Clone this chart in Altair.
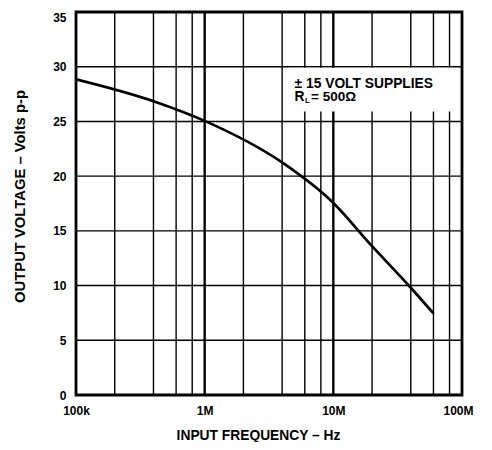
import altair as alt
import pandas as pd

# curve values
freq_hz = [1e5, 4e5, 1e6, 4e6, 1e7, 2e7, 4e7, 6e7]
volts_pp = [28.85, 26.85, 25.05, 21.25, 17.55, 13.6, 9.8, 7.45]

# grid / tick values
minor_x = [2e5, 4e5, 6e5, 8e5, 2e6, 4e6, 6e6, 8e6, 2e7, 4e7, 6e7, 8e7]
major_x = [1e6, 1e7]
grid_y = [5, 10, 15, 20, 25, 30]
x_ticks = [1e5, 1e6, 1e7, 1e8]
x_tick_labels = ["100k", "1M", "10M", "100M"]
y_ticks = [0, 5, 10, 15, 20, 25, 30, 35]

# annotation
note_line1 = "± 15 VOLT SUPPLIES"
note_R = "R"
note_L = "L"
note_rest = "= 500Ω"
note_x = [5.0e6]
note_y1 = [28.1]
note_y2 = [26.85]
box_x = [4.5e6]
box_x2 = [8.6e7]
box_y = [25.9]
box_y2 = [29.9]

FONT = "Liberation Sans"

xscale = alt.Scale(type="log", domain=[1e5, 1e8], nice=False)
yscale = alt.Scale(domain=[0, 35], nice=False, zero=False)

label_map = "{" + ",".join(f"'{int(v)}':'{l}'" for v, l in zip(x_ticks, x_tick_labels)) + "}"

curve_df = pd.DataFrame({"f": freq_hz, "v": volts_pp})

xaxis = alt.Axis(
    title="INPUT FREQUENCY – Hz",
    values=x_ticks,
    labelExpr=f"{label_map}[format(datum.value, 'd')]",
    grid=False, ticks=False, domain=False,
    labelFlush=False, labelPadding=10,
    labelOffset={"condition": {"test": "datum.value >= 100000000", "value": -4}, "value": 0},
    labelFont=FONT, labelFontWeight="bold", labelFontSize=12, labelColor="black",
    titleFont=FONT, titleFontWeight="bold", titleFontSize=13.8, titleColor="black",
    titleX=182, titleY=40, titleBaseline="middle", titleAlign="center",
)
yaxis = alt.Axis(
    title="OUTPUT VOLTAGE – Volts p-p",
    values=y_ticks,
    grid=False, ticks=False, domain=False,
    labelPadding=10,
    labelBaseline={"condition": {"test": "datum.value >= 35", "value": "top"}, "value": "middle"},
    labelFont=FONT, labelFontWeight="bold", labelFontSize=12, labelColor="black",
    titleFont=FONT, titleFontWeight="bold", titleFontSize=14.8, titleColor="black",
    titleX=-56, titleY=184, titleBaseline="middle", titleAlign="center", titleAngle=270,
)

minor_rules = alt.Chart(pd.DataFrame({"f": minor_x})).mark_rule(
    color="black", strokeWidth=1.4
).encode(x=alt.X("f:Q", scale=xscale, axis=xaxis))

major_rules = alt.Chart(pd.DataFrame({"f": major_x})).mark_rule(
    color="black", strokeWidth=2.4
).encode(x=alt.X("f:Q", scale=xscale))

h_rules = alt.Chart(pd.DataFrame({"v": grid_y})).mark_rule(
    color="black", strokeWidth=1.4
).encode(y=alt.Y("v:Q", scale=yscale, axis=yaxis))

box = alt.Chart(pd.DataFrame({"x": box_x, "x2": box_x2, "y": box_y, "y2": box_y2})).mark_rect(
    color="white"
).encode(x=alt.X("x:Q", scale=xscale), x2="x2:Q", y=alt.Y("y:Q", scale=yscale), y2="y2:Q")

txt_style = dict(font=FONT, fontWeight="bold", fontSize=13.8, color="black", align="left", baseline="alphabetic")

t1 = alt.Chart(pd.DataFrame({"x": note_x, "y": note_y1, "t": [note_line1]})).mark_text(**txt_style).encode(
    x=alt.X("x:Q", scale=xscale), y=alt.Y("y:Q", scale=yscale), text="t:N")
tR = alt.Chart(pd.DataFrame({"x": note_x, "y": note_y2, "t": [note_R]})).mark_text(**txt_style).encode(
    x=alt.X("x:Q", scale=xscale), y=alt.Y("y:Q", scale=yscale), text="t:N")
tL = alt.Chart(pd.DataFrame({"x": note_x, "y": note_y2, "t": [note_L]})).mark_text(
    font=FONT, fontWeight="bold", fontSize=8, color="black", align="left", baseline="alphabetic", dx=10.5, dy=2
).encode(x=alt.X("x:Q", scale=xscale), y=alt.Y("y:Q", scale=yscale), text="t:N")
tRest = alt.Chart(pd.DataFrame({"x": note_x, "y": note_y2, "t": [note_rest]})).mark_text(
    **{**txt_style, "dx": 16.5, "fontSize": 13.5}
).encode(x=alt.X("x:Q", scale=xscale), y=alt.Y("y:Q", scale=yscale), text="t:N")

curve = alt.Chart(curve_df).mark_line(
    color="black", strokeWidth=2.7, interpolate="monotone", clip=True
).encode(x=alt.X("f:Q", scale=xscale), y=alt.Y("v:Q", scale=yscale))

chart = alt.layer(minor_rules, major_rules, h_rules, box, t1, tR, tL, tRest, curve).properties(
    width=386, height=383,
    autosize=alt.AutoSizeParams(type="none"),
    padding={"left": 68, "top": 4, "right": 22, "bottom": 47},
    background="white",
).configure_view(stroke="black", strokeWidth=2.8)

chart.save("out.html", embed_options={"renderer": "svg", "actions": False})
